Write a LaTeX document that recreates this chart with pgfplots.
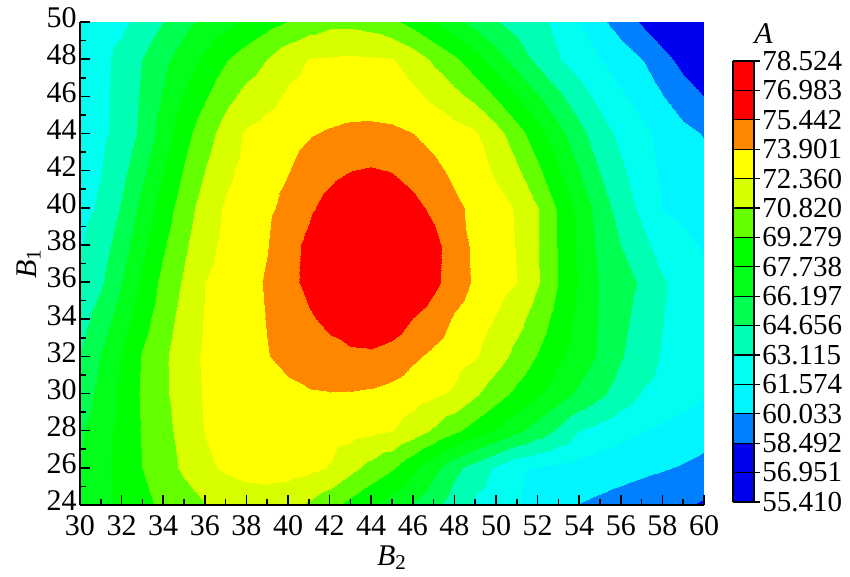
\documentclass[border=0pt]{standalone}
\usepackage{fontspec}
\setmainfont{Liberation Serif}
\usepackage{pgfplots}
\pgfplotsset{compat=1.18}
\usepackage{pgfplotstable}

% response A on a grid: x = B2 (30..60 step 1), y = B1 (24..50 step 2)
\pgfplotstableread{
x y z
30 24 66.5
31 24 67.3
32 24 68.09
33 24 68.88
34 24 69.58
35 24 70.17
36 24 70.76
37 24 71.2
38 24 71.45
39 24 71.5
40 24 71.25
41 24 70.6
42 24 69.75
43 24 68.82
44 24 67.89
45 24 66.97
46 24 66.04
47 24 65.12
48 24 63.89
49 24 62.83
50 24 62.26
51 24 61.69
52 24 61.12
53 24 60.55
54 24 60.0
55 24 59.73
56 24 59.46
57 24 59.18
58 24 58.91
59 24 58.63
60 24 58.3
30 26 66.3
31 26 67.29
32 26 68.29
33 26 69.28
34 26 70.17
35 26 71.08
36 26 72.06
37 26 72.6
38 26 72.9
39 26 73.05
40 26 73.0
41 26 72.75
42 26 72.26
43 26 71.27
44 26 70.34
45 26 69.46
46 26 68.09
47 26 66.6
48 26 65.1
49 26 63.94
50 26 62.89
51 26 61.79
52 26 61.41
53 26 61.20
54 26 60.99
55 26 60.78
56 26 60.57
57 26 60.36
58 26 60.15
59 26 59.9
60 26 59.6
30 28 66.0
31 28 67.13
32 28 68.26
33 28 69.38
34 28 70.34
35 28 71.37
36 28 72.42
37 28 72.85
38 28 73.15
39 28 73.35
40 28 73.4
41 28 73.3
42 28 73.1
43 28 72.9
44 28 72.65
45 28 72.4
46 28 71.59
47 28 70.61
48 28 69.59
49 28 68.56
50 28 67.53
51 28 66.51
52 28 65.48
53 28 64.40
54 28 63.1
55 28 62.55
56 28 62.0
57 28 61.65
58 28 61.3
59 28 60.95
60 28 60.6
30 30 65.3
31 30 66.72
32 30 68.14
33 30 69.48
34 30 70.51
35 30 71.65
36 30 72.5
37 30 72.9
38 30 73.2
39 30 73.45
40 30 73.65
41 30 73.8
42 30 73.85
43 30 73.82
44 30 73.7
45 30 73.45
46 30 73.05
47 30 72.6
48 30 72.14
49 30 71.04
50 30 69.94
51 30 68.89
52 30 67.90
53 30 66.92
54 30 65.93
55 30 64.95
56 30 63.94
57 30 63.03
58 30 62.58
59 30 62.14
60 30 61.7
30 32 64.7
31 32 66.28
32 32 67.86
33 32 69.39
34 32 70.53
35 32 71.74
36 32 72.57
37 32 73.0
38 32 73.43
39 32 73.86
40 32 74.2
41 32 74.55
42 32 74.85
43 32 75.1
44 32 75.15
45 32 74.8
46 32 74.15
47 32 73.6
48 32 73.05
49 32 72.50
50 32 71.51
51 32 70.35
52 32 69.17
53 32 68.11
54 32 67.05
55 32 65.96
56 32 64.77
57 32 63.84
58 32 63.01
59 32 62.51
60 32 62.0
30 34 64.0
31 34 65.38
32 34 67.03
33 34 68.71
34 34 70.12
35 34 71.39
36 34 72.47
37 34 72.95
38 34 73.44
39 34 73.95
40 34 74.57
41 34 75.23
42 34 75.88
43 34 76.45
44 34 76.73
45 34 76.35
46 34 75.4
47 34 74.7
48 34 73.75
49 34 73.1
50 34 72.27
51 34 71.36
52 34 70.05
53 34 68.7
54 34 67.34
55 34 66.03
56 34 65.03
57 34 64.14
58 34 63.16
59 34 62.54
60 34 61.95
30 36 63.3
31 36 64.47
32 36 66.2
33 36 68.03
34 36 69.70
35 36 71.03
36 36 72.36
37 36 72.9
38 36 73.44
39 36 74.04
40 36 74.94
41 36 75.9
42 36 76.9
43 36 77.8
44 36 78.3
45 36 77.9
46 36 76.8
47 36 75.8
48 36 74.67
49 36 73.70
50 36 73.03
51 36 72.36
52 36 70.92
53 36 69.28
54 36 67.63
55 36 66.09
56 36 65.29
57 36 64.43
58 36 63.3
59 36 62.56
60 36 61.9
30 38 63.0
31 38 63.89
32 38 65.52
33 38 67.34
34 38 69.08
35 38 70.56
36 38 71.94
37 38 72.74
38 38 73.27
39 38 73.84
40 38 74.9
41 38 75.8
42 38 77.0
43 38 78.0
44 38 78.5
45 38 78.0
46 38 77.0
47 38 75.9
48 38 74.6
49 38 73.62
50 38 72.97
51 38 72.29
52 38 70.87
53 38 69.19
54 38 67.46
55 38 65.78
56 38 64.64
57 38 63.59
58 38 62.43
59 38 61.92
60 38 61.45
30 40 62.7
31 40 63.31
32 40 64.84
33 40 66.65
34 40 68.46
35 40 70.09
36 40 71.52
37 40 72.57
38 40 73.1
39 40 73.63
40 40 74.33
41 40 75.19
42 40 76.0
43 40 76.6
44 40 76.85
45 40 76.6
46 40 75.9
47 40 75.1
48 40 74.24
49 40 73.53
50 40 72.91
51 40 72.22
52 40 70.82
53 40 69.1
54 40 67.29
55 40 65.47
56 40 63.98
57 40 62.75
58 40 61.56
59 40 61.28
60 40 61.0
30 42 62.55
31 42 63.08
32 42 64.22
33 42 65.84
34 42 67.67
35 42 69.41
36 42 70.85
37 42 72.05
38 42 72.82
39 42 73.29
40 42 73.85
41 42 74.49
42 42 75.03
43 42 75.43
44 42 75.58
45 42 75.4
46 42 74.9
47 42 74.27
48 42 73.6
49 42 73.02
50 42 72.15
51 42 71.06
52 42 69.57
53 42 67.92
54 42 66.21
55 42 64.62
56 42 63.36
57 42 62.36
58 42 61.38
59 42 60.85
60 42 60.48
30 44 62.4
31 44 62.84
32 44 63.59
33 44 65.03
34 44 66.88
35 44 68.73
36 44 70.18
37 44 71.52
38 44 72.53
39 44 72.94
40 44 73.36
41 44 73.78
42 44 74.05
43 44 74.25
44 44 74.3
45 44 74.2
46 44 73.9
47 44 73.43
48 44 72.97
49 44 72.50
50 44 71.38
51 44 69.90
52 44 68.32
53 44 66.73
54 44 65.13
55 44 63.76
56 44 62.73
57 44 61.96
58 44 61.19
59 44 60.42
60 44 59.95
30 46 62.3
31 46 62.8
32 46 63.58
33 46 64.85
34 46 66.33
35 46 67.82
36 46 69.11
37 46 70.35
38 46 71.27
39 46 71.88
40 46 72.6
41 46 72.9
42 46 73.0
43 46 73.1
44 46 73.1
45 46 73.0
46 46 72.7
47 46 71.98
48 46 71.27
49 46 70.4
50 46 69.14
51 46 67.7
52 46 66.29
53 46 64.98
54 46 63.77
55 46 62.68
56 46 61.78
57 46 61.0
58 46 60.1
59 46 59.2
60 46 58.48
30 48 62.2
31 48 62.75
32 48 63.56
33 48 64.66
34 48 65.78
35 48 66.91
36 48 68.04
37 48 69.17
38 48 70.01
39 48 70.82
40 48 71.85
41 48 72.4
42 48 72.5
43 48 72.55
44 48 72.5
45 48 72.4
46 48 71.65
47 48 70.53
48 48 69.57
49 48 68.30
50 48 66.90
51 48 65.50
52 48 64.25
53 48 63.22
54 48 62.40
55 48 61.61
56 48 60.82
57 48 60.03
58 48 59.01
59 48 58.0
60 48 57.0
30 50 61.9
31 50 62.4
32 50 62.8
33 50 63.63
34 50 64.65
35 50 65.75
36 50 66.6
37 50 67.32
38 50 68.02
39 50 68.72
40 50 69.35
41 50 70.0
42 50 70.45
43 50 70.45
44 50 70.2
45 50 69.6
46 50 68.77
47 50 67.74
48 50 66.71
49 50 65.72
50 50 64.75
51 50 64.12
52 50 63.53
53 50 62.76
54 50 61.57
55 50 60.39
56 50 59.31
57 50 58.31
58 50 57.41
59 50 56.5
60 50 55.6
}\fielddata

\begin{document}
\begin{tikzpicture}
\begin{axis}[
  name=main,
  scale only axis, width=312pt, height=241.5pt,
  xmin=30, xmax=60, ymin=24, ymax=50,
  xtick={30,32,...,60}, ytick={24,26,...,50},
  minor x tick num=1, minor y tick num=1,
  tick align=inside, major tick length=5pt, minor tick length=3pt,
  axis x line*=bottom, axis y line*=left,
  axis line style={line width=1pt},
  every tick/.style={black, line width=0.8pt},
  axis on top,
  /pgf/number format/assume math mode=true,
  tick label style={font=\fontsize{15}{15}\selectfont},
  xticklabel style={inner xsep=0pt, inner ysep=5pt},
  yticklabel style={inner xsep=1.5pt, inner ysep=0pt, yshift=2pt},
  xlabel={\textit{B}\textsubscript{2}},
  ylabel={\textit{B}\textsubscript{1}},
  label style={font=\fontsize{15}{15}\selectfont},
  xlabel style={yshift=3.5pt},
  ylabel style={yshift=-2pt},
  colormap={tec}{
    rgb255=(0,0,240) rgb255=(0,0,240) rgb255=(0,128,255) rgb255=(0,245,255)
    rgb255=(0,255,240) rgb255=(0,255,180) rgb255=(0,255,80) rgb255=(0,255,25)
    rgb255=(0,255,0) rgb255=(100,255,0) rgb255=(215,255,0) rgb255=(255,255,0)
    rgb255=(255,135,0) rgb255=(255,0,0) rgb255=(255,0,0)},
  colormap access=piecewise constant,
  point meta min=55.410, point meta max=78.524,
  colorbar,
  colorbar style={
    width=10.5pt, height=220.5pt,
    at={(parent axis.south east)}, anchor=south west,
    xshift=6pt, yshift=1.5pt,
    axis on top,
    ytick={55.410,56.951,58.492,60.033,61.574,63.115,64.656,66.197,67.738,69.279,70.820,72.360,73.901,75.442,76.983,78.524},
    yticklabels={55.410,56.951,58.492,60.033,61.574,63.115,64.656,66.197,67.738,69.279,70.820,72.360,73.901,75.442,76.983,78.524},
    ytick pos=right, yticklabel pos=right,
    tick align=outside, major tick length=3pt,
    every tick/.style={black, line width=0.6pt},
    ymajorgrids, major grid style={black, line width=0.6pt},
    axis line style={black, line width=0.8pt},
    yticklabel style={font=\fontsize{14.5}{14.5}\selectfont, inner xsep=1pt},
    title={\textit{A}},
    title style={font=\fontsize{15}{15}\selectfont, xshift=10pt, yshift=-1pt},
  },
]
\addplot[surf, shader=interp, point meta=explicit, mesh/rows=14, mesh/cols=31]
  table[x=x, y=y, meta=z] {\fielddata};
\end{axis}
\pgfresetboundingbox
\path[use as bounding box] ([shift={(-40pt,-36pt)}]main.south west) rectangle ([shift={(73pt,11pt)}]main.north east);
\end{tikzpicture}
\end{document}
